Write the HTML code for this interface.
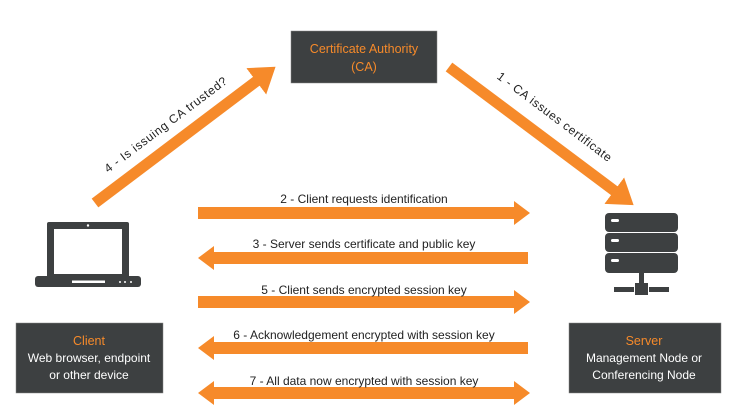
<!DOCTYPE html>
<html><head><meta charset="utf-8"><style>
html,body{margin:0;padding:0;background:#fff;}
svg{display:block;}
text{font-family:"Liberation Sans",sans-serif;}
</style></head><body>
<svg width="739" height="412" viewBox="0 0 739 412" xmlns="http://www.w3.org/2000/svg">
<defs>
<marker id="h" markerWidth="3" markerHeight="3" refX="0.2" refY="1.5" orient="auto" markerUnits="strokeWidth"><path d="M0,0 L2.2,1.5 L0,3 z" fill="#f68a2a"/></marker>
</defs>
<rect x="291" y="31" width="146" height="52" fill="#3d4041" stroke="#888" stroke-width="0.5"/>
<text x="364" y="53" fill="#f68a2a" font-size="12.5" text-anchor="middle">Certificate Authority</text>
<text x="364" y="71" fill="#f68a2a" font-size="12.5" text-anchor="middle">(CA)</text>
<line x1="95" y1="203" x2="258" y2="80" stroke="#f68a2a" stroke-width="11" marker-end="url(#h)"/>
<line x1="449" y1="67" x2="616" y2="192" stroke="#f68a2a" stroke-width="11" marker-end="url(#h)"/>
<text transform="translate(168,128) rotate(-37)" font-size="12" text-anchor="middle" fill="#222" textLength="150">4 - Is issuing CA trusted?</text>
<text transform="translate(552,120) rotate(37)" font-size="12" text-anchor="middle" fill="#222" textLength="140">1 - CA issues certificate</text>
<g fill="#f68a2a">
<path d="M198,207 H514 V201 L530,213 L514,225 V219 H198 Z"/>
<path d="M528,252 H214 V246 L198,258 L214,270 V264 H528 Z"/>
<path d="M198,296 H514 V290 L530,302 L514,314 V308 H198 Z"/>
<path d="M528,342 H214 V336 L198,348 L214,360 V354 H528 Z"/>
<path d="M214,387 H514 V381 L530,393 L514,405 V399 H214 V405 L198,393 L214,381 Z"/>
</g>
<g font-size="12" fill="#222" text-anchor="middle">
<text x="364" y="203">2 - Client requests identification</text>
<text x="364" y="248">3 - Server sends certificate and public key</text>
<text x="364" y="294">5 - Client sends encrypted session key</text>
<text x="364" y="339">6 - Acknowledgement encrypted with session key</text>
<text x="364" y="385">7 - All data now encrypted with session key</text>
</g>
<rect x="47" y="222" width="82" height="56" rx="2" fill="#3d4041"/>
<rect x="54" y="229" width="68" height="45" fill="#fff"/>
<circle cx="88" cy="225.5" r="1.2" fill="#fff"/>
<rect x="35" y="276" width="106" height="11" rx="3" fill="#3d4041"/>
<rect x="72" y="280.5" width="33" height="2.5" fill="#fff"/>
<circle cx="120" cy="282" r="1" fill="#fff"/><circle cx="125" cy="282" r="1" fill="#fff"/><circle cx="131" cy="282" r="1" fill="#fff"/>
<g fill="#3d4041">
<rect x="605" y="213" width="73" height="19" rx="4"/>
<rect x="605" y="233" width="73" height="19" rx="4"/>
<rect x="605" y="253" width="73" height="20" rx="4"/>
<rect x="639" y="273" width="5" height="10"/>
<rect x="635" y="283" width="13" height="12"/>
<rect x="614" y="287" width="20" height="5"/>
<rect x="649" y="287" width="20" height="5"/>
</g>
<g fill="#fff"><rect x="611" y="219" width="8" height="3" rx="1.5"/><rect x="611" y="239" width="8" height="3" rx="1.5"/><rect x="611" y="259" width="8" height="3" rx="1.5"/></g>
<rect x="16" y="323" width="147" height="70" fill="#3d4041" stroke="#888" stroke-width="0.5"/>
<text x="89" y="345" fill="#f68a2a" font-size="12.5" text-anchor="middle">Client</text>
<text x="89" y="362" fill="#fff" font-size="12" text-anchor="middle">Web browser, endpoint</text>
<text x="89" y="379" fill="#fff" font-size="12" text-anchor="middle">or other device</text>
<rect x="569" y="323" width="152" height="70" fill="#3d4041" stroke="#888" stroke-width="0.5"/>
<text x="644" y="345" fill="#f68a2a" font-size="12.5" text-anchor="middle">Server</text>
<text x="644" y="362" fill="#fff" font-size="12" text-anchor="middle">Management Node or</text>
<text x="644" y="379" fill="#fff" font-size="12" text-anchor="middle">Conferencing Node</text>
</svg>
</body></html>
